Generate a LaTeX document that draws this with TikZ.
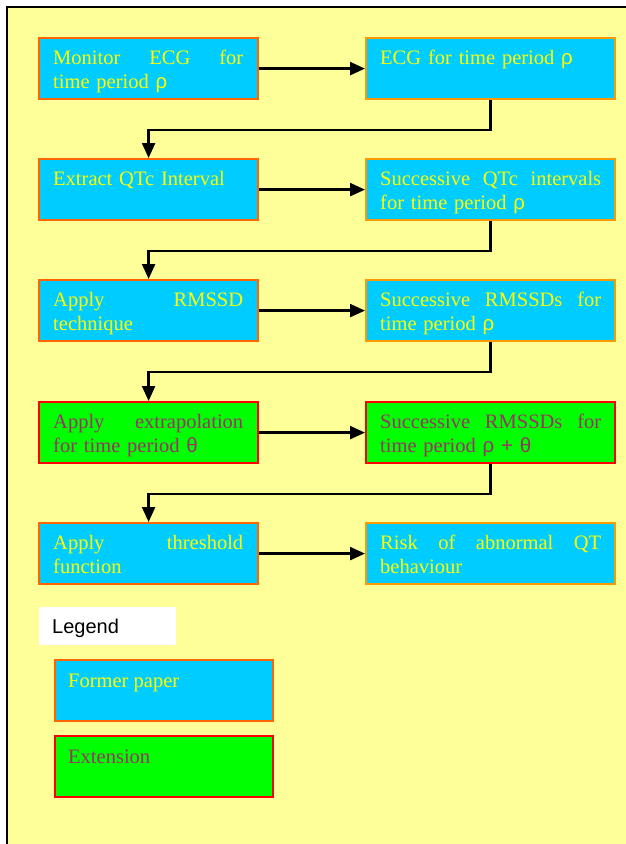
\documentclass[tikz,border=0pt]{standalone}
\usepackage{fontspec}
\setmainfont{Liberation Serif}
\newfontfamily\gk{Liberation Sans}
\newfontfamily\arialf{Liberation Sans}
\usetikzlibrary{arrows.meta}
\definecolor{bgyellow}{HTML}{FFFF99}
\definecolor{boxblue}{HTML}{00CCFF}
\definecolor{txtyellow}{HTML}{FFFF00}
\definecolor{edgeA}{HTML}{FF6600}
\definecolor{edgeB}{HTML}{FF9900}
\definecolor{boxgreen}{HTML}{00FF00}
\definecolor{edgeR}{HTML}{FF0000}
\definecolor{txtpurple}{HTML}{993366}
\newcommand\grho{{\gk ρ}}
\newcommand\gth{{\gk θ}}
\tikzset{
  boxbase/.style={rectangle, line width=2.2pt, anchor=north west, inner sep=0pt, minimum height=61pt},
  blueA/.style={boxbase, fill=boxblue, draw=edgeA},
  blueB/.style={boxbase, fill=boxblue, draw=edgeB},
  greenbox/.style={boxbase, fill=boxgreen, draw=edgeR},
  lw/.style={minimum width=219pt},
  rw/.style={minimum width=249pt},
  txt/.style={anchor=base west, inner sep=0pt, align=left, font=\fontsize{20.5}{24}\selectfont},
  ltxt/.style={txt, text width=190pt},
  rtxt/.style={txt, text width=221pt},
  ytxt/.style={text=txtyellow},
  ptxt/.style={text=txtpurple},
  conn/.style={line width=2.3pt, -{Triangle[length=15pt,width=13pt]}},
}
\begin{document}
\begin{tikzpicture}[x=1pt,y=-1pt]
\useasboundingbox (0,0) rectangle (626,844);
\fill[bgyellow] (7,7) rectangle (626,844);
\draw[line width=2.5pt] (7,844) -- (7,7) -- (626,7);

% row 1
\node[blueA, lw] (l1) at (38,37) {};
\node[blueB, rw] (r1) at (365,37) {};
% row 2
\node[blueA, lw] (l2) at (38,158) {};
\node[blueB, rw] (r2) at (365,158) {};
% row 3
\node[blueA, lw] (l3) at (38,279) {};
\node[blueB, rw] (r3) at (365,279) {};
% row 4
\node[greenbox, lw] (l4) at (38,401) {};
\node[greenbox, rw] (r4) at (365,401) {};
% row 5
\node[blueA, lw] (l5) at (38,522) {};
\node[blueB, rw] (r5) at (365,522) {};

% texts
\node[ltxt, ytxt] (tl1) at ([xshift=15pt,yshift=-27pt]l1.north west) {Monitor\hfill ECG\hfill for\\time period \grho};
\node[rtxt, ytxt] (tr1) at ([xshift=15pt,yshift=-27pt]r1.north west) {ECG for time period \grho};
\node[ltxt, ytxt] (tl2) at ([xshift=15pt,yshift=-27pt]l2.north west) {Extract QTc Interval};
\node[rtxt, ytxt] (tr2) at ([xshift=15pt,yshift=-27pt]r2.north west) {Successive\hfill QTc\hfill intervals\\for time period \grho};
\node[ltxt, ytxt] (tl3) at ([xshift=15pt,yshift=-27pt]l3.north west) {Apply\hfill RMSSD\\technique};
\node[rtxt, ytxt] (tr3) at ([xshift=15pt,yshift=-27pt]r3.north west) {Successive\hfill RMSSDs\hfill for\\time period \grho};
\node[ltxt, ptxt] (tl4) at ([xshift=15pt,yshift=-27pt]l4.north west) {Apply\hfill extrapolation\\for time period \gth};
\node[rtxt, ptxt] (tr4) at ([xshift=15pt,yshift=-27pt]r4.north west) {Successive\hfill RMSSDs\hfill for\\time period \grho{} {\gk +} \gth};
\node[ltxt, ytxt] (tl5) at ([xshift=15pt,yshift=-27pt]l5.north west) {Apply\hfill threshold\\function};
\node[rtxt, ytxt] (tr5) at ([xshift=15pt,yshift=-27pt]r5.north west) {Risk\hfill of\hfill abnormal\hfill QT\\behaviour};

% horizontal arrows
\draw[conn] (l1.east) -- (r1.west);
\draw[conn] (l2.east) -- (r2.west);
\draw[conn] (l3.east) -- (r3.west);
\draw[conn] (l4.east) -- (r4.west);
\draw[conn] (l5.east) -- (r5.west);

% return connectors
\draw[conn] (r1.south) -- ++(0,30) -| (l2.north);
\draw[conn] (r2.south) -- ++(0,30) -| (l3.north);
\draw[conn] (r3.south) -- ++(0,30) -| (l4.north);
\draw[conn] (r4.south) -- ++(0,30) -| (l5.north);

% legend
\node[fill=white, anchor=north west, minimum width=137pt, minimum height=38pt, inner sep=0pt] (lg) at (39,607) {};
\node[anchor=base west, inner sep=0pt, font=\arialf\fontsize{20}{24}\selectfont] (lgt) at ([xshift=13pt,yshift=-26pt]lg.north west) {Legend};
\node[blueA, minimum width=218pt] (fp) at (54,659) {};
\node[txt, ytxt] (fpt) at ([xshift=14pt,yshift=-28pt]fp.north west) {Former paper};
\node[greenbox, minimum width=218pt] (ex) at (54,735) {};
\node[txt, ptxt] (ext) at ([xshift=14pt,yshift=-28pt]ex.north west) {Extension};
\end{tikzpicture}
\end{document}
